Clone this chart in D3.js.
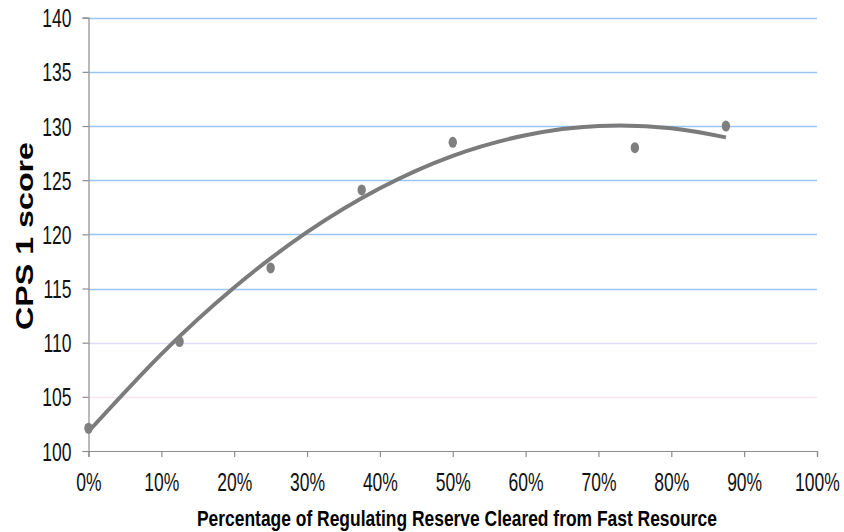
<!DOCTYPE html>
<html>
<head>
<meta charset="utf-8">
<script src="https://cdn.jsdelivr.net/npm/d3@7/dist/d3.min.js"></script>
<style>
  html, body { margin: 0; padding: 0; background: #fff; }
  svg { display: block; }
</style>
</head>
<body>
<svg id="chart" width="844" height="532"></svg>
<script>
// ---- data ----
const pointX = [0, 0.125, 0.25, 0.375, 0.5, 0.75, 0.875];
const pointY = [102.1, 110.1, 116.9, 124.1, 128.5, 128.0, 130.0];

// polynomial trendline
const trendX = [0, 0.1, 0.2, 0.3, 0.4, 0.5, 0.6, 0.7, 0.8, 0.875];
const trendY = [101.8, 108.95, 115.1, 120.2, 124.25, 127.25, 129.15, 130.0, 129.8, 128.95];

const yTicks = [100, 105, 110, 115, 120, 125, 130, 135, 140];
const xTicks = [0, 0.1, 0.2, 0.3, 0.4, 0.5, 0.6, 0.7, 0.8, 0.9, 1.0];

const xTitle = "Percentage of Regulating Reserve Cleared from Fast Resource";
const yTitle = "CPS 1 score";

// ---- drawing ----
const svg = d3.select("#chart");
svg.append("rect").attr("width", 844).attr("height", 532).attr("fill", "#fff");

const x = d3.scaleLinear().domain([0, 1]).range([88.5, 817]);
const y = d3.scaleLinear().domain([100, 140]).range([451, 17.7]);

const FONT = "'Liberation Sans', Arial, Helvetica, sans-serif";
const SQUEEZE = 0.7;

function squeeze(sel, k) {
  sel.each(function () {
    const w = this.getComputedTextLength();
    d3.select(this).attr("textLength", w * k).attr("lengthAdjust", "spacingAndGlyphs");
  });
}

// gridlines
const gridColor = v => v === 110 ? "#dcdcf6" : (v === 105 ? "#f6e4f2" : "#9cc6f2");
svg.append("g")
  .selectAll("line")
  .data(yTicks.filter(v => v > 100))
  .join("line")
  .attr("x1", x(0)).attr("x2", x(1))
  .attr("y1", d => Math.round(y(d)) + 0.5).attr("y2", d => Math.round(y(d)) + 0.5)
  .attr("stroke", d => gridColor(d))
  .attr("stroke-width", 1.5);

// y axis
const yAxis = svg.append("g")
  .attr("transform", `translate(${x(0)},0)`)
  .call(d3.axisLeft(y).tickValues(yTicks).tickSize(6).tickPadding(11).tickFormat(d3.format("d")));
yAxis.select(".domain").attr("stroke", "#8c8c8c").attr("stroke-width", 1.2);
yAxis.selectAll(".tick line").attr("stroke", "#8c8c8c").attr("stroke-width", 1.2);
yAxis.selectAll(".tick text")
  .attr("font-family", FONT).attr("font-size", 25).attr("fill", "#111")
  .attr("dy", "0.36em")
  .call(squeeze, SQUEEZE);

// x axis
const xAxis = svg.append("g")
  .attr("transform", `translate(0,${y(100)})`)
  .call(d3.axisBottom(x).tickValues(xTicks).tickSize(6).tickPadding(6).tickFormat(d3.format(".0%")));
xAxis.select(".domain").attr("stroke", "#8c8c8c").attr("stroke-width", 1.2);
xAxis.selectAll(".tick line").attr("stroke", "#8c8c8c").attr("stroke-width", 1.2);
xAxis.selectAll(".tick text")
  .attr("font-family", FONT).attr("font-size", 25).attr("fill", "#111")
  .attr("y", 39.5).attr("dy", null)
  .call(squeeze, SQUEEZE);

// trendline
const trend = trendX.map((v, i) => [v, trendY[i]]);
svg.append("path")
  .datum(trend)
  .attr("fill", "none")
  .attr("stroke", "#7b7b7b")
  .attr("stroke-width", 4)
  .attr("stroke-linecap", "butt")
  .attr("d", d3.line().x(d => x(d[0])).y(d => y(d[1])).curve(d3.curveNatural));

// points
svg.append("g")
  .selectAll("ellipse")
  .data(pointX.map((v, i) => [v, pointY[i]]))
  .join("ellipse")
  .attr("cx", d => x(d[0]))
  .attr("cy", d => y(d[1]))
  .attr("rx", 4.2)
  .attr("ry", 5.5)
  .attr("fill", "#7f7f7f");

// axis titles
svg.append("text")
  .attr("x", 457).attr("y", 526)
  .attr("text-anchor", "middle")
  .attr("font-family", FONT).attr("font-weight", "bold").attr("font-size", 22)
  .attr("fill", "#000")
  .attr("textLength", 520).attr("lengthAdjust", "spacingAndGlyphs")
  .text(xTitle);

svg.append("text")
  .attr("transform", `translate(33,236) scale(0.8,1) rotate(-90)`)
  .attr("text-anchor", "middle")
  .attr("font-family", FONT).attr("font-weight", "bold").attr("font-size", 31)
  .attr("fill", "#000")
  .attr("textLength", 188).attr("lengthAdjust", "spacingAndGlyphs")
  .text(yTitle);
</script>
</body>
</html>
